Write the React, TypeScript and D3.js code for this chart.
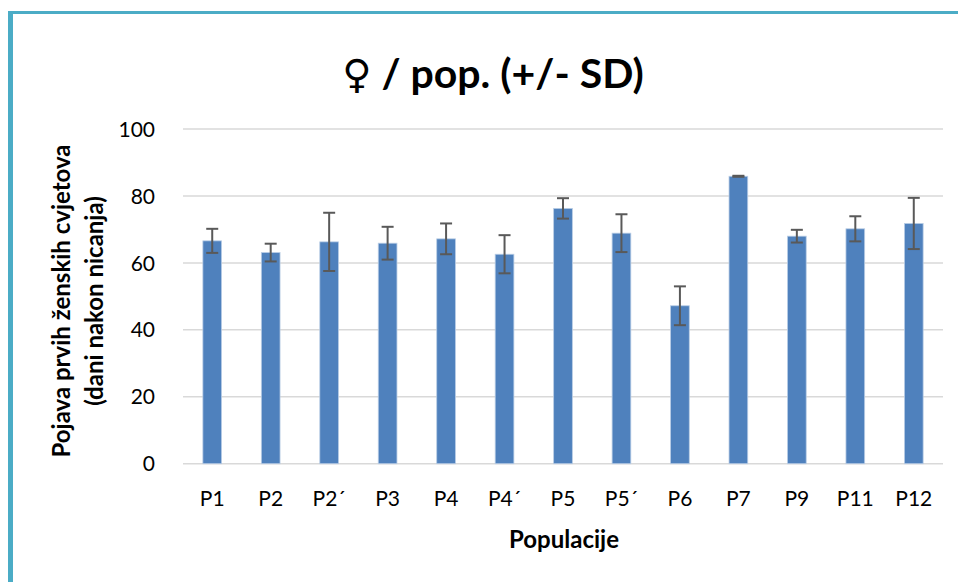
import React from 'react';
import * as d3 from 'd3';

// populacije i srednje vrijednosti (dani nakon nicanja) s SD
const categories: string[] = ['P1', 'P2', 'P2´', 'P3', 'P4', 'P4´', 'P5', 'P5´', 'P6', 'P7', 'P9', 'P11', 'P12'];
const means: number[] = [66.6, 63.1, 66.3, 65.9, 67.2, 62.6, 76.3, 68.9, 47.2, 85.9, 68.0, 70.2, 71.8];
const sds: number[] = [3.6, 2.65, 8.7, 4.9, 4.6, 5.7, 3.05, 5.65, 5.8, 0.15, 1.9, 3.75, 7.65];
const yTicks: number[] = [0, 20, 40, 60, 80, 100];

const W = 958;
const H = 582;
const font = 'Lato, "Open Sans", sans-serif';

const App: React.FC = () => {
  const x = d3.scaleBand<string>()
    .domain(categories)
    .range([183, 943])
    .paddingInner(0.68)
    .paddingOuter(0.34);

  const y = d3.scaleLinear()
    .domain([0, 100])
    .range([463.7, 129.1]);

  const bw = x.bandwidth();
  const cap = 6;

  return (
    <svg width={W} height={H} style={{ position: 'absolute', left: 0, top: 0 }} fontFamily={font}>
      <rect x={0} y={0} width={W} height={H} fill="#fff" />
      {/* okvir */}
      <line x1={10.5} y1={12.5} x2={10.5} y2={H} stroke="#4BACC6" strokeWidth={5} />
      <line x1={8} y1={12.5} x2={W} y2={12.5} stroke="#4BACC6" strokeWidth={3} />

      <text x={493} y={88} textAnchor="middle" fontSize={41} fontWeight="bold" fill="#000">
        <tspan fontFamily="DejaVu Sans" fontSize={40}>♀</tspan> / pop. (+/- SD)
      </text>

      {/* mreža */}
      {yTicks.map(t => (
        <g key={t}>
          <line x1={183} x2={943} y1={y(t)} y2={y(t)} stroke="#D9D9D9" strokeWidth={1.5} />
          <text x={155} y={y(t)} dy="0.36em" textAnchor="end" fontSize={21} fill="#000">{t}</text>
        </g>
      ))}

      {/* stupci */}
      {categories.map((c, i) => {
        const x0 = x(c) as number;
        const cx = x0 + bw / 2;
        const m = means[i];
        const s = sds[i];
        return (
          <g key={c}>
            <rect x={x0} y={y(m)} width={bw} height={y(0) - y(m)} fill="#4F81BD" stroke="#b9cde5" strokeWidth={0.8} />
            <line x1={cx} x2={cx} y1={y(m + s)} y2={y(m - s)} stroke="#595959" strokeWidth={2} />
            <line x1={cx - cap} x2={cx + cap} y1={y(m + s)} y2={y(m + s)} stroke="#595959" strokeWidth={2} />
            <line x1={cx - cap} x2={cx + cap} y1={y(m - s)} y2={y(m - s)} stroke="#595959" strokeWidth={2} />
            <text x={cx} y={506} textAnchor="middle" fontSize={21} fill="#000">{c}</text>
          </g>
        );
      })}

      <text x={564} y={548} textAnchor="middle" fontSize={24} fontWeight="bold" fill="#000">Populacije</text>

      <g transform="translate(62,301) rotate(-90)">
        <text x={0} y={0} dy="0.35em" textAnchor="middle" fontSize={24} fontWeight="bold" fill="#000">Pojava prvih ženskih cvjetova</text>
        <text x={0} y={33} dy="0.35em" textAnchor="middle" fontSize={24} fontWeight="bold" fill="#000">(dani nakon nicanja)</text>
      </g>
    </svg>
  );
};

export default App;
